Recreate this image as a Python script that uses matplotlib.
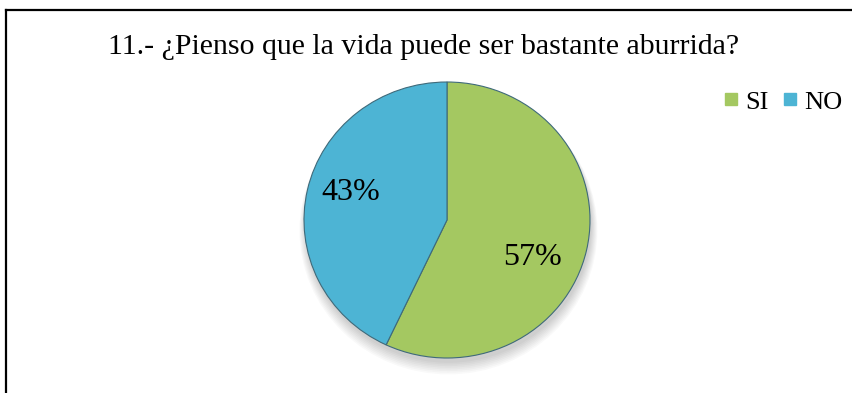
import math
import matplotlib.pyplot as plt
from matplotlib.lines import Line2D
from matplotlib.patches import Ellipse

plt.rcParams['font.family'] = ['Liberation Serif', 'DejaVu Serif']

titulo = '11.- ¿Pienso que la vida puede ser bastante aburrida?'
categorias = ['SI', 'NO']
valores = [57, 43]
colores = ['#A4C861', '#4DB4D4']

fig = plt.figure(figsize=(8.52, 3.93), dpi=100)
W, H = 852, 393

# marco (solo borde superior e izquierdo visibles)
fig.add_artist(Line2D([6 / W, 1], [1 - 10 / H, 1 - 10 / H], color='black', lw=1.6))
fig.add_artist(Line2D([6 / W, 6 / W], [0, 1 - 10 / H], color='black', lw=1.6))

fig.text(424 / W, 1 - 47 / H, titulo, ha='center', va='center', fontsize=21.5)

# ejes del pastel: centro (447, 220) px, radios 143 x 138 px (algo achatado)
rx, ry = 143, 138
medio = 155
ax = fig.add_axes([(447 - medio) / W, (H - 220 - medio) / H, 2 * medio / W, 2 * medio / H])

# sombra suave bajo el pastel
for i in range(8):
    ax.add_patch(Ellipse((0.01, -0.035 - i * 0.006), 2 * (1.0 + i * 0.006), 2 * (1.0 + i * 0.006),
                         color='black', alpha=0.022, lw=0, zorder=0))

cunas = ax.pie(valores, colors=colores, startangle=90, counterclock=False,
               radius=1.0, frame=True,
               wedgeprops=dict(edgecolor='#3F6A7A', linewidth=0.8))[0]
for c in cunas:
    c.set_zorder(2)
ax.set_aspect('auto')
ax.set_xlim(-medio / rx, medio / rx)
ax.set_ylim(-medio / ry, medio / ry)
ax.axis('off')

# posición de las etiquetas: (ángulo desplazado, distancia) respecto al centro
ajustes = [(-12, 0.66), (-4, 0.70)]
for c, v, (da, d) in zip(cunas, valores, ajustes):
    ang = math.radians((c.theta1 + c.theta2) / 2 + da)
    ax.text(d * math.cos(ang), d * math.sin(ang), f'{v}%', ha='center', va='center',
            fontsize=23, zorder=3)

manijas = [Line2D([], [], marker='s', linestyle='none', markersize=8,
                  markerfacecolor=col, markeredgecolor=col) for col in colores]
fig.legend(manijas, categorias, loc='center', bbox_to_anchor=(783 / W, 1 - 102 / H),
           ncol=2, frameon=False, fontsize=19, handlelength=0.6, handletextpad=0.25,
           columnspacing=0.5, borderpad=0)

fig.savefig('out.png', dpi=100)
